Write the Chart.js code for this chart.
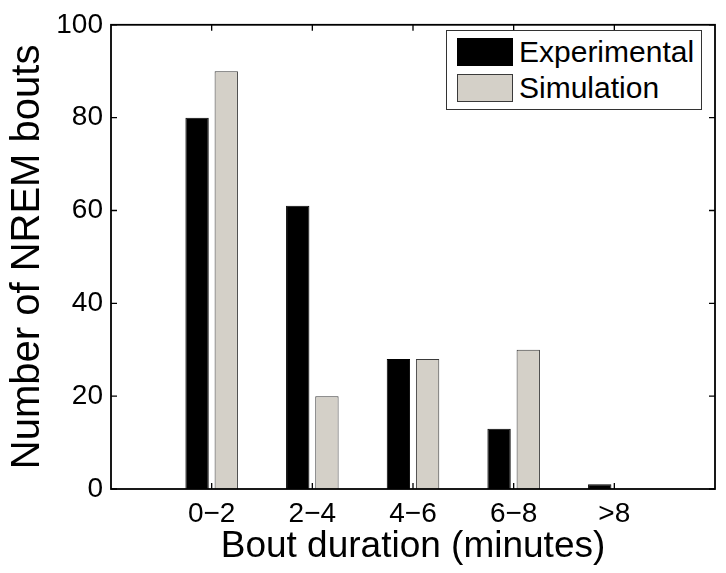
<!DOCTYPE html>
<html>
<head>
<meta charset="utf-8">
<script src="https://cdn.jsdelivr.net/npm/chart.js@4"></script>
<style>
  body { margin: 0; background: #fff; }
  #wrap { position: relative; width: 726px; height: 573px; }
  #legend {
    position: absolute; left: 446px; top: 30px; width: 254px; height: 78px;
    border: 1px solid #333; background: #fff;
    font-family: "Liberation Sans", Arial, sans-serif; font-size: 30px; color: #000;
  }
  #legend .row { position: absolute; left: 10px; height: 28px; line-height: 28px; white-space: nowrap; }
  #legend .sw { display: inline-block; width: 56px; height: 28px; vertical-align: top; box-sizing: border-box; border: 1px solid #333; margin-right: 6px; }
</style>
</head>
<body>
<div id="wrap">
  <canvas id="bar-chart"></canvas>
  <div id="legend"></div>
</div>
<script>
const categories = ['0\u22122', '2\u22124', '4\u22126', '6\u22128', '>8'];
const experimental = [80, 61, 28, 13, 1];
const simulation = [90, 20, 28, 30, 0];
const yTicks = [0, 20, 40, 60, 80, 100];

const seriesNames = ['Experimental', 'Simulation'];
const seriesColors = ['#000000', '#d4d0c8'];
const seriesBorders = ['#000000', '#3a3a3a'];

// pad an empty slot on both ends so the bars sit at 1..5 of a 0..6 axis
const labels = [''].concat(categories, ['']);
const pad = (arr) => [null].concat(arr, [null]);

const font = "'Liberation Sans', Arial, sans-serif";

const boxTicks = {
  id: 'boxTicks',
  afterDatasetsDraw(chart) {
    const ctx = chart.ctx;
    const a = chart.chartArea;
    const xs = chart.scales.x, ys = chart.scales.y;
    const len = 6;
    ctx.save();
    ctx.strokeStyle = '#000';
    ctx.lineWidth = 1.3;
    ctx.beginPath();
    xs.ticks.forEach((t, i) => {
      if (!labels[i]) return;
      const x = xs.getPixelForTick(i);
      ctx.moveTo(x, a.bottom); ctx.lineTo(x, a.bottom - len);
      ctx.moveTo(x, a.top); ctx.lineTo(x, a.top + len);
    });
    ys.ticks.forEach((t, i) => {
      const y = ys.getPixelForTick(i);
      ctx.moveTo(a.left, y); ctx.lineTo(a.left + len, y);
      ctx.moveTo(a.right, y); ctx.lineTo(a.right - len, y);
    });
    ctx.stroke();
    ctx.lineWidth = 1.8;
    ctx.strokeRect(a.left, a.top, a.right - a.left, a.bottom - a.top);
    ctx.restore();
  }
};

new Chart(document.getElementById('bar-chart'), {
  type: 'bar',
  data: {
    labels: labels,
    datasets: [{
      label: seriesNames[0],
      data: pad(experimental),
      backgroundColor: seriesColors[0],
      borderColor: seriesBorders[0],
      borderWidth: 1
    }, {
      label: seriesNames[1],
      data: pad(simulation),
      backgroundColor: seriesColors[1],
      borderColor: seriesBorders[1],
      borderWidth: 1
    }]
  },
  options: {
    responsive: true,
    maintainAspectRatio: false,
    animation: false,
    datasets: { bar: { categoryPercentage: 0.58, barPercentage: 0.8 } },
    layout: { padding: { top: 21, right: 11, left: 0, bottom: 0 } },
    plugins: { legend: { display: false }, tooltip: { enabled: false } },
    scales: {
      x: {
        offset: false,
        grid: { display: false },
        border: { display: false },
        ticks: { color: '#000', font: { family: font, size: 28 }, padding: 0, maxRotation: 0, autoSkip: false },
        title: { display: true, text: 'Bout duration (minutes)', color: '#000', font: { family: font, size: 37 }, padding: { top: 0, bottom: 4 } },
        afterFit: (s) => { s.height = 84; }
      },
      y: {
        min: 0, max: 100,
        afterBuildTicks: (s) => { s.ticks = yTicks.map(v => ({ value: v })); },
        grid: { display: false, drawTicks: false },
        border: { display: false },
        ticks: { color: '#000', font: { family: font, size: 28 }, padding: 8 },
        title: { display: true, text: 'Number of NREM bouts', color: '#000', font: { family: font, size: 40 }, padding: { top: 4, bottom: 0 } },
        afterFit: (s) => { s.width = 111; }
      }
    }
  },
  plugins: [boxTicks]
});

// legend box inside the plot, top right
const legend = document.getElementById('legend');
seriesNames.forEach((name, i) => {
  const row = document.createElement('div');
  row.className = 'row';
  row.style.top = (7 + i * 36) + 'px';
  const sw = document.createElement('span');
  sw.className = 'sw';
  sw.style.background = seriesColors[i];
  sw.style.borderColor = seriesBorders[i];
  row.appendChild(sw);
  row.appendChild(document.createTextNode(name));
  legend.appendChild(row);
});
</script>
</body>
</html>
